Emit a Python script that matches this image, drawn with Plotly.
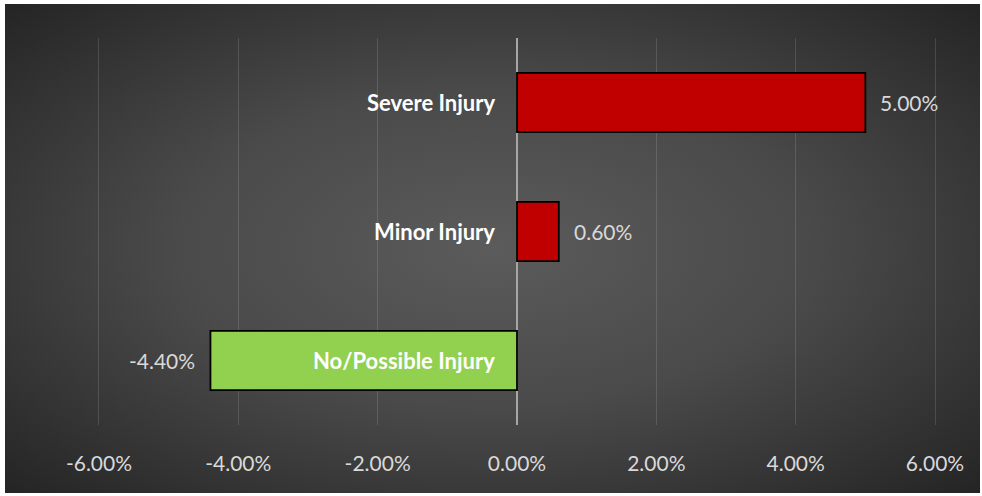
import base64
import plotly.graph_objects as go

categories = ["Severe Injury", "Minor Injury", "No/Possible Injury"]
values = [5.0, 0.6, -4.4]
bar_colors = ["#C00000", "#C00000", "#92D050"]
tick_vals = [-6, -4, -2, 0, 2, 4, 6]
tick_text = ["-6.00%", "-4.00%", "-2.00%", "0.00%", "2.00%", "4.00%", "6.00%"]

W, H = 982, 496
ml, mr, mt, mb = 30, 12, 38, 71
pw, ph = W - ml - mr, H - mt - mb

svg = (
    '<svg xmlns="http://www.w3.org/2000/svg" width="975" height="489" preserveAspectRatio="none">'
    '<defs><radialGradient id="g" cx="50%" cy="50%" r="72%">'
    '<stop offset="0" stop-color="#5b5b5b"/><stop offset="0.45" stop-color="#4a4a4a"/>'
    '<stop offset="1" stop-color="#232323"/></radialGradient></defs>'
    '<rect width="975" height="489" fill="url(#g)"/></svg>'
)
src = "data:image/svg+xml;base64," + base64.b64encode(svg.encode()).decode()

FONT = "Lato, Open Sans, sans-serif"

fig = go.Figure()
fig.add_trace(go.Bar(
    y=categories, x=values, orientation="h",
    marker=dict(color=bar_colors, line=dict(color="#000000", width=1.8)),
    width=0.46, hoverinfo="skip",
))

annotations = []
for c, v in zip(categories, values):
    annotations.append(dict(
        x=v, y=c, xref="x", yref="y", text=f"{v:.2f}%", showarrow=False,
        xanchor="left" if v >= 0 else "right", xshift=13 if v >= 0 else -13,
        font=dict(family=FONT, size=21, color="#D9D9D9"),
    ))
    annotations.append(dict(
        x=0, y=c, xref="x", yref="y", text=f"<b>{c}</b>", showarrow=False,
        xanchor="right", xshift=-20,
        font=dict(family=FONT, size=22, color="#FFFFFF"),
    ))

fig.update_layout(
    width=W, height=H,
    margin=dict(l=ml, r=mr, t=mt, b=mb),
    paper_bgcolor="#FFFFFF", plot_bgcolor="rgba(0,0,0,0)",
    showlegend=False,
    annotations=annotations,
    images=[dict(
        source=src, xref="paper", yref="paper",
        x=(5 - ml) / pw, y=1 + (mt - 4) / ph,
        sizex=975 / pw, sizey=489 / ph,
        xanchor="left", yanchor="top", sizing="stretch", layer="below",
    )],
    xaxis=dict(
        range=[(ml - 517) / 69.67, (W - mr - 517) / 69.67],
        tickvals=tick_vals, ticktext=tick_text,
        showgrid=True, gridcolor="rgba(255,255,255,0.13)", gridwidth=1,
        zeroline=True, zerolinecolor="#A6A6A6", zerolinewidth=2,
        showline=False, ticks="",
        ticklabelstandoff=24,
        tickfont=dict(family=FONT, size=21, color="#D9D9D9"),
        fixedrange=True,
    ),
    yaxis=dict(
        categoryorder="array", categoryarray=categories,
        autorange="reversed", showticklabels=False, showgrid=False,
        zeroline=False, showline=False, ticks="",
        fixedrange=True,
    ),
)

fig.write_html(
    "out.html",
    config={"displayModeBar": False},
    post_script="document.body.style.margin='0';document.body.style.overflow='hidden';",
)
